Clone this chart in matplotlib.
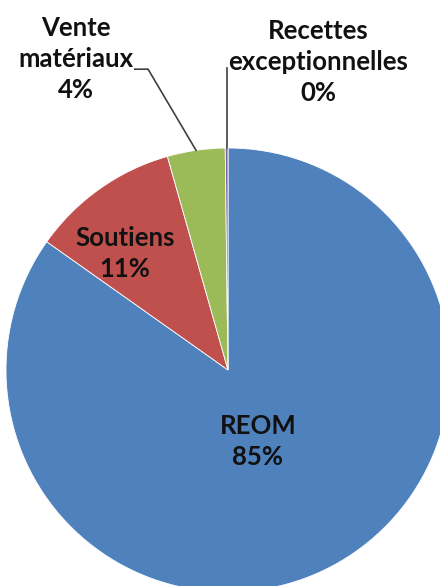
import numpy as np
import matplotlib
matplotlib.use("Agg")
import matplotlib.pyplot as plt

## Data
categories = ["REOM", "Soutiens", "Vente\nmatériaux", "Recettes\nexceptionnelles"]
values = [84.8, 10.8, 4.2, 0.2]
pct_labels = ["85%", "11%", "4%", "0%"]
colors = ["#4F81BD", "#C0504D", "#9BBB59", "#8064A2"]

plt.rcParams['font.family'] = ['Lato', 'DejaVu Sans']

W, H = 440, 586
cx, cy, R = 228, 370, 222  # pie centre / radius in pixels

fig = plt.figure(figsize=(W / 100, H / 100), dpi=100)
ax = fig.add_axes([0, 0, 1, 1])
wedges, _ = ax.pie(values, colors=colors, startangle=90, counterclock=False,
                   wedgeprops=dict(edgecolor="white", linewidth=0.6))
ax.set_xlim(-cx / R, (W - cx) / R)
ax.set_ylim(-(H - cy) / R, cy / R)
ax.axis("off")

txt = dict(ha="center", va="center", fontsize=18.5, fontweight="bold",
           color="#111111", linespacing=1.35)

# labels inside the slices
ax.text(0.135, -0.324, f"{categories[0]}\n{pct_labels[0]}", **txt)
ax.text(-0.464, 0.527, f"{categories[1]}\n{pct_labels[1]}", **txt)

# outside labels with leader lines
ax.text(-0.685, 1.40, f"{categories[2]}\n{pct_labels[2]}", **txt)
ax.text(0.405, 1.387, f"{categories[3]}\n{pct_labels[3]}", **txt)

def edge_point(w):
    ang = np.deg2rad((w.theta1 + w.theta2) / 2)
    return np.cos(ang), np.sin(ang)

x0, y0 = edge_point(wedges[2])
ax.plot([x0, -0.36, -0.42], [y0, 1.355, 1.355], color="#404040", lw=1.2)
x1, y1 = edge_point(wedges[3])
ax.plot([x1, x1], [y1, 1.36], color="#404040", lw=1.2)

plt.savefig("out.png", dpi=100)
